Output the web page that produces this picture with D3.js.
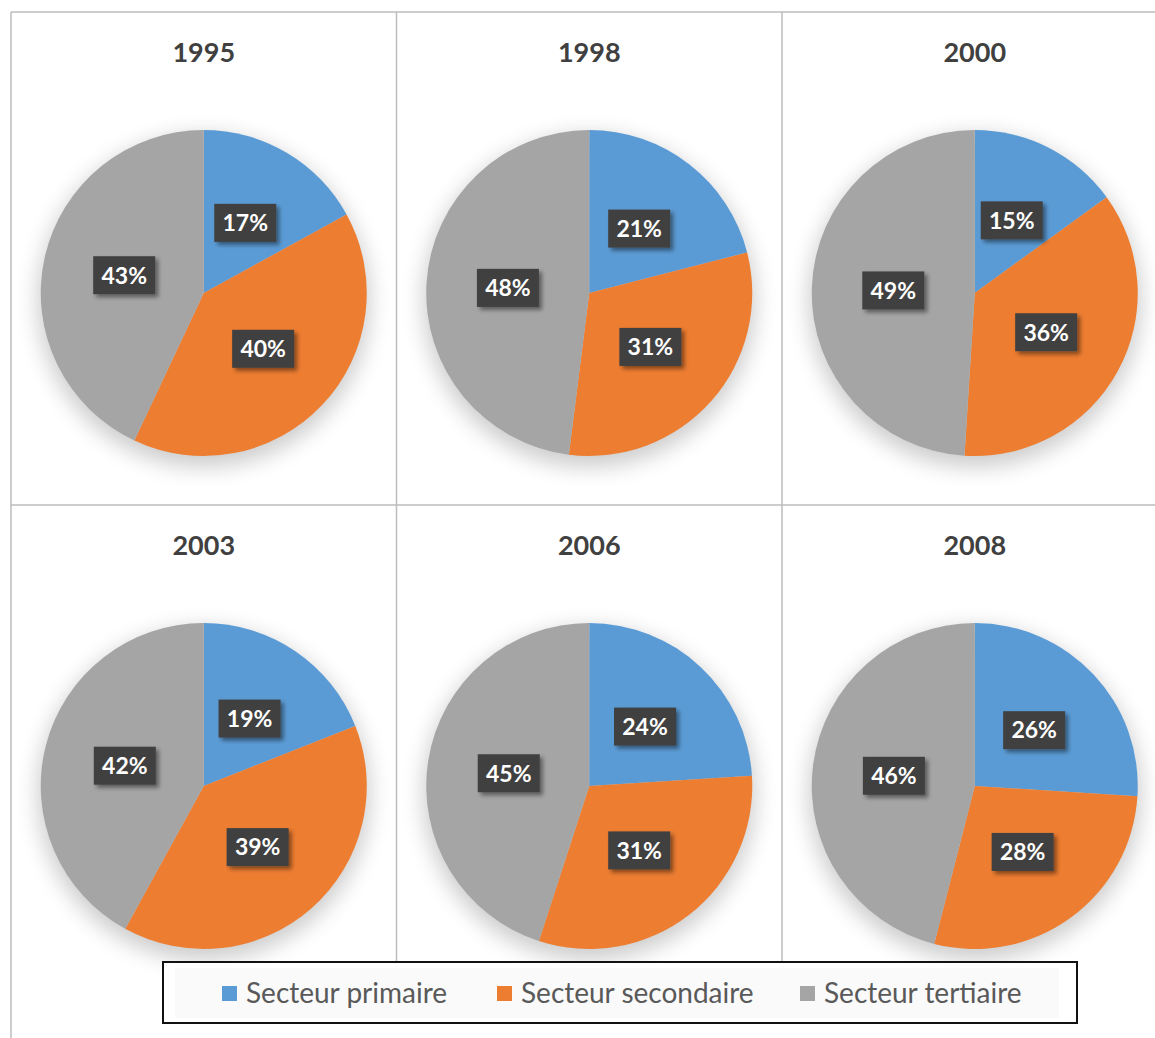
<!doctype html>
<html>
<head>
<meta charset="utf-8">
<title>Secteurs 1995-2008</title>
<style>
  body { margin: 0; background: #fff; }
  svg { display: block; }
</style>
</head>
<body>
<script src="https://d3js.org/d3.v7.min.js"></script>
<script>
// data
var years = ["1995", "1998", "2000", "2003", "2006", "2008"];
var primaire = [17, 21, 15, 19, 24, 26];
var secondaire = [40, 31, 36, 39, 31, 28];
var tertiaire = [43, 48, 49, 42, 45, 46];
var sectors = ["Secteur primaire", "Secteur secondaire", "Secteur tertiaire"];
var colors = ["#5B9BD5", "#ED7D31", "#A5A5A5"];

var w = 1155, h = 1038;
var font = "Lato, 'Open Sans', sans-serif";

var svg = d3.select("body").append("svg")
    .attr("width", w)
    .attr("height", h);

var defs = svg.append("defs");
var pieShadow = defs.append("filter").attr("id", "pieShadow")
    .attr("x", "-30%").attr("y", "-30%").attr("width", "160%").attr("height", "160%");
pieShadow.append("feGaussianBlur").attr("stdDeviation", 11);

var boxShadow = defs.append("filter").attr("id", "boxShadow")
    .attr("x", "-30%").attr("y", "-30%").attr("width", "160%").attr("height", "160%");
boxShadow.append("feDropShadow")
    .attr("dx", 3).attr("dy", 3).attr("stdDeviation", 2)
    .attr("flood-color", "#000").attr("flood-opacity", 0.45);

// grid
var gx0 = 11, gy0 = 12, cellW = 385.5, cellH = 493;
var grid = svg.append("g").attr("stroke", "#bdbdbd").attr("stroke-width", 1.5);
grid.append("line").attr("x1", gx0).attr("x2", w).attr("y1", gy0).attr("y2", gy0);
grid.append("line").attr("x1", gx0).attr("x2", w).attr("y1", gy0 + cellH).attr("y2", gy0 + cellH);
grid.append("line").attr("x1", gx0).attr("x2", gx0).attr("y1", gy0).attr("y2", h);
[1, 2].forEach(function (c) {
    grid.append("line")
        .attr("x1", gx0 + c * cellW).attr("x2", gx0 + c * cellW)
        .attr("y1", gy0).attr("y2", 962);
});

var r = 163;
var pie = d3.pie().sort(null).value(function (d) { return d; });
var arc = d3.arc().innerRadius(0).outerRadius(r);
var labelArc = d3.arc().innerRadius(r * 0.5).outerRadius(r * 0.5);

years.forEach(function (yr, i) {
    var col = i % 3, row = Math.floor(i / 3);
    var cx = gx0 + cellW * (col + 0.5);
    var top = gy0 + cellH * row;
    var cy = top + 281;
    var vals = [primaire[i], secondaire[i], tertiaire[i]];

    svg.append("text")
        .attr("x", cx).attr("y", top + 50)
        .attr("text-anchor", "middle")
        .style("font-family", font)
        .style("font-weight", "bold")
        .style("font-size", "27px")
        .style("fill", "#404040")
        .text(yr);

    var g = svg.append("g").attr("transform", "translate(" + cx + "," + cy + ")");

    g.append("circle")
        .attr("cx", 0).attr("cy", 8).attr("r", r + 3)
        .attr("fill", "#000").attr("opacity", 0.2)
        .attr("filter", "url(#pieShadow)");

    var arcs = pie(vals);
    g.selectAll("path.slice")
        .data(arcs)
        .enter()
        .append("path")
        .attr("class", "slice")
        .attr("d", arc)
        .attr("fill", function (d, j) { return colors[j]; });

    var lab = g.selectAll("g.lab")
        .data(arcs)
        .enter()
        .append("g")
        .attr("class", "lab")
        .attr("transform", function (d) { return "translate(" + labelArc.centroid(d) + ")"; });

    lab.append("rect")
        .attr("x", -31).attr("y", -19).attr("width", 62).attr("height", 38)
        .attr("fill", "#404040")
        .attr("filter", "url(#boxShadow)");

    lab.append("text")
        .attr("text-anchor", "middle")
        .attr("dy", "0.36em")
        .style("font-family", font)
        .style("font-weight", "bold")
        .style("font-size", "23px")
        .style("fill", "#fff")
        .text(function (d) { return d.data + "%"; });
});

// legend
var leg = svg.append("g");
leg.append("rect")
    .attr("x", 163).attr("y", 962).attr("width", 914).attr("height", 61)
    .attr("fill", "#fff").attr("stroke", "#111").attr("stroke-width", 2);
leg.append("rect")
    .attr("x", 175).attr("y", 968).attr("width", 884).attr("height", 50)
    .attr("fill", "#fafafa");

var legX = [222, 497, 800];
sectors.forEach(function (s, j) {
    leg.append("rect")
        .attr("x", legX[j]).attr("y", 986).attr("width", 15).attr("height", 15)
        .attr("fill", colors[j]);
    leg.append("text")
        .attr("x", legX[j] + 24).attr("y", 1003)
        .style("font-family", font)
        .style("font-size", "28px")
        .style("fill", "#595959")
        .text(s);
});
</script>
</body>
</html>
